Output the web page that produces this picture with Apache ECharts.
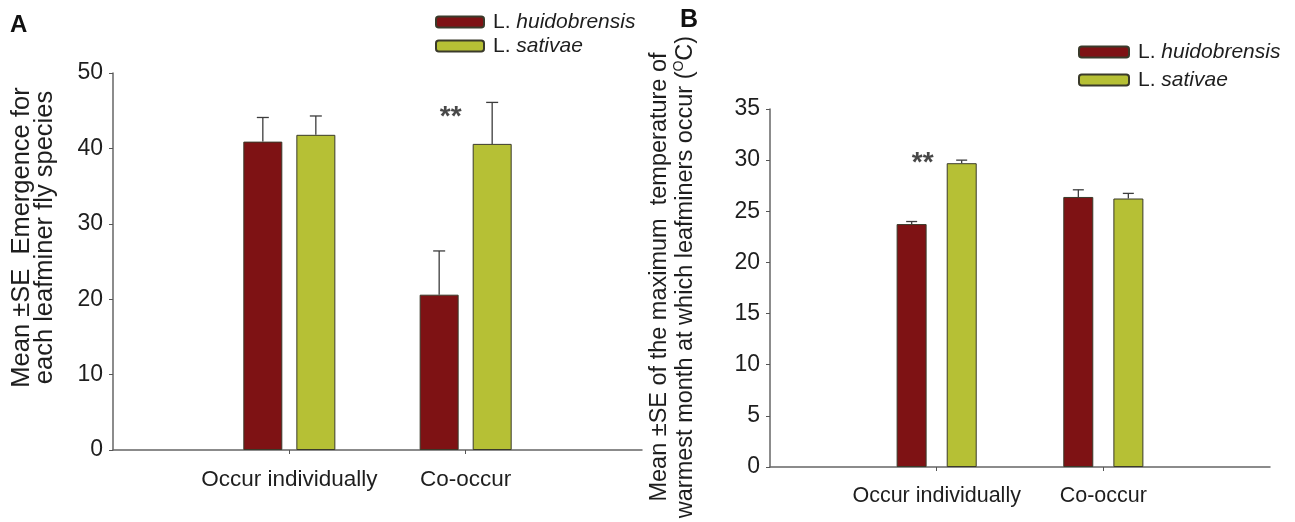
<!DOCTYPE html>
<html>
<head>
<meta charset="utf-8">
<script src="https://cdn.jsdelivr.net/npm/echarts@6/dist/echarts.min.js"></script>
<style>html,body{margin:0;padding:0;background:#fff}#c{width:1295px;height:522px}</style>
</head>
<body>
<div id="c"></div>
<script>
// ---- data ----
const categories = ['Occur individually', 'Co-occur'];
const seriesNames = ['L. huidobrensis', 'L. sativae'];
// Panel A: emergence
const emergHuido = [40.9, 20.6];
const emergHuidoSE = [3.2, 5.8];
const emergSativ = [41.8, 40.6];
const emergSativSE = [2.5, 5.5];
const sigA = [[2, 44.7]]; // "**" annotation (category index, value)
// Panel B: max temperature of warmest month
const tempHuido = [23.75, 26.4];
const tempHuidoSE = [0.25, 0.7];
const tempSativ = [29.7, 26.25];
const tempSativSE = [0.3, 0.5];
const sigB = [[1, 30.1]];
const ticksA = {min: 0, max: 50, interval: 10};
const ticksB = {min: 0, max: 35, interval: 5};

// ---- helpers ----
const FONT = '"Liberation Sans", Arial, sans-serif';
const RED = '#7e1214', GREEN = '#b6c035', EDGE = '#3a3a2a', TXT = '#1e1e1e';
const axisCats = ['', ...categories, ''];
const pad = arr => ['-', ...arr, '-'];
const errData = (m, se) => m.map((v, i) => [i + 1, v, se[i]]);

function errSeries(grid, mean, se, offset, capHalf) {
  return {
    type: 'custom', xAxisIndex: grid, yAxisIndex: grid, z: 5,
    encode: {x: 0, y: 1},
    data: errData(mean, se),
    renderItem(params, api) {
      const base = api.coord([api.value(0), api.value(1)]);
      const top = api.coord([api.value(0), api.value(1) + api.value(2)]);
      const x = base[0] + offset;
      const st = {stroke: '#3c3c3c', lineWidth: 1.3};
      return {type: 'group', children: [
        {type: 'line', shape: {x1: x, y1: base[1], x2: x, y2: top[1]}, style: st},
        {type: 'line', shape: {x1: x - capHalf, y1: top[1], x2: x + capHalf, y2: top[1]}, style: st}
      ]};
    }
  };
}
function barSeries(name, grid, data, color, width, gap) {
  return {
    name, type: 'bar', xAxisIndex: grid, yAxisIndex: grid,
    data: pad(data), barWidth: width, barGap: gap,
    itemStyle: {color, borderColor: EDGE, borderWidth: 1}
  };
}
function sigSeries(grid, data, offX) {
  return {
    type: 'scatter', xAxisIndex: grid, yAxisIndex: grid, data, symbolSize: 1,
    itemStyle: {color: 'rgba(0,0,0,0)'}, silent: true, z: 6,
    label: {show: true, formatter: '**', position: 'inside', offset: [offX, 4],
      fontFamily: FONT, fontSize: 28, fontWeight: 'bold', color: '#1a1a1a'}
  };
}
function xAx(grid, fs) {
  return {
    type: 'category', gridIndex: grid, data: axisCats, boundaryGap: false,
    axisLine: {lineStyle: {color: '#666', width: 1.5}},
    axisTick: {show: true, length: 4, interval: (i) => i === 1 || i === 2, lineStyle: {color: '#555'}},
    axisLabel: {interval: 0, margin: 18, fontFamily: FONT, fontSize: fs, color: TXT},
    splitLine: {show: false}
  };
}
function yAx(grid, t, name, gap, nts) {
  return {
    type: 'value', gridIndex: grid, min: t.min, max: t.max, interval: t.interval,
    axisLine: {show: true, lineStyle: {color: '#666', width: 1.5}},
    axisTick: {show: true, length: 4, lineStyle: {color: '#555'}},
    axisLabel: {margin: 10, fontFamily: FONT, fontSize: 23, color: TXT},
    splitLine: {show: false},
    name, nameLocation: 'middle', nameRotate: 90, nameGap: gap,
    nameTextStyle: Object.assign({fontFamily: FONT, color: TXT}, nts)
  };
}
const legendRich = {i: {fontStyle: 'italic', fontFamily: FONT, fontSize: 21, color: TXT},
                    n: {fontFamily: FONT, fontSize: 21, color: TXT, padding: [0, 0, 0, 4]}};
const legendFmt = name => name.replace(/^(L\. )(.*)$/, '{n|$1}{i|$2}');

const chart = echarts.init(document.getElementById('c'), null, {renderer: 'canvas'});
chart.setOption({
  animation: false,
  backgroundColor: '#fff',
  textStyle: {fontFamily: FONT},
  grid: [
    {left: 113, top: 73, width: 529, height: 377, outerBoundsMode: 'none', containLabel: false},
    {left: 770, top: 109, width: 500, height: 358, outerBoundsMode: 'none', containLabel: false}
  ],
  legend: [
    {orient: 'vertical', left: 435, top: 11, padding: 0, itemWidth: 48, itemHeight: 11, itemGap: 2,
     data: seriesNames, formatter: legendFmt, textStyle: {fontSize: 21, lineHeight: 22, rich: legendRich}, selectedMode: false},
    {orient: 'vertical', left: 1078, top: 41, padding: 0, itemWidth: 50, itemHeight: 11, itemGap: 6,
     data: seriesNames, formatter: legendFmt, textStyle: {fontSize: 21, lineHeight: 22, rich: legendRich}, selectedMode: false}
  ],
  xAxis: [xAx(0, 22.5), xAx(1, 21.5)],
  yAxis: [
    yAx(0, ticksA, 'Mean \u00b1SE  Emergence for\neach leafminer fly species', 56,
      {fontSize: 25.5, lineHeight: 23.5, padding: [0, 0, 0, 48]}),
    yAx(1, ticksB, '{a|Mean \u00b1SE of the maximum  temperature of}\n{a|warmest month at which leafminers occur (}{s|O}{a|C)}', 72,
      {padding: [0, 0, 0, 22],
       rich: {a: {fontFamily: FONT, fontSize: 23.5, color: TXT, lineHeight: 25.5},
              s: {fontFamily: FONT, fontSize: 14, color: TXT, lineHeight: 25.5, verticalAlign: 'top', padding: [0, 0, 10, 0]}}})
  ],
  graphic: [
    {type: 'text', left: 10, top: 13, style: {text: 'A', fontFamily: FONT, fontSize: 24, fontWeight: 'bold', fill: '#111'}},
    {type: 'text', left: 680, top: 8, style: {text: 'B', fontFamily: FONT, fontSize: 25, fontWeight: 'bold', fill: '#111'}}
  ],
  series: [
    barSeries(seriesNames[0], 0, emergHuido, RED, 39, '36%'),
    barSeries(seriesNames[1], 0, emergSativ, GREEN, 39, '36%'),
    errSeries(0, emergHuido, emergHuidoSE, -26.5, 6),
    errSeries(0, emergSativ, emergSativSE, 26.5, 6),
    sigSeries(0, sigA, -15),
    barSeries(seriesNames[0], 1, tempHuido, RED, 30, '67%'),
    barSeries(seriesNames[1], 1, tempSativ, GREEN, 30, '67%'),
    errSeries(1, tempHuido, tempHuidoSE, -25, 5.5),
    errSeries(1, tempSativ, tempSativSE, 25, 5.5),
    sigSeries(1, sigB, -14)
  ]
});
</script>
</body>
</html>
